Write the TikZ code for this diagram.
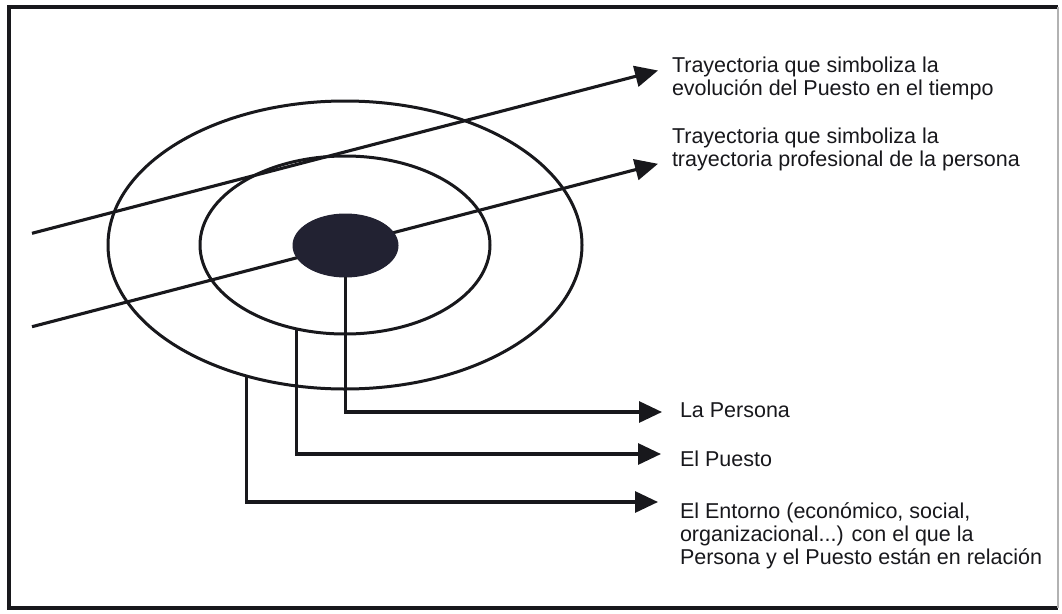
\documentclass[tikz,border=0pt]{standalone}
\usepackage{fontspec}
\setmainfont{Liberation Sans}
\usetikzlibrary{arrows.meta,shapes.geometric}
\definecolor{ink}{RGB}{24,24,28}
\definecolor{dotfill}{RGB}{34,34,50}
\begin{document}
\begin{tikzpicture}[x=1pt,y=-1pt,
  inkline/.style={draw=ink, line width=3.1pt},
  ring/.style={ellipse, draw=ink, line width=3pt, inner sep=0pt, outer sep=0pt},
  pointer/.style={inkline, -{Triangle[length=23pt,width=21pt]}},
  lbl/.style={anchor=base west, inner sep=0pt, outer sep=0pt, text=ink, font=\fontsize{21.5}{23}\selectfont}]
\useasboundingbox (0,0) rectangle (1062,613);
\fill[white] (0,0) rectangle (1062,613);
% frame
\draw[ink, line width=3.2pt] (1058,7) -- (9,7) -- (9,608) -- (1058,608);
\draw[gray!60, line width=1.2pt] (1058,7) -- (1058,608);
% rings
\node[ring, minimum width=474pt, minimum height=288pt] (outer) at (345,245) {};
\node[ring, minimum width=290pt, minimum height=178pt] (inner) at (345,245) {};
% trajectories
\coordinate (a1s) at (32,233.3);
\coordinate (a1e) at (658,70.5);
\coordinate (a2s) at (32,326.7);
\coordinate (a2e) at (658,163.8);
\draw[pointer] (a1s) -- (a1e);
\draw[pointer] (a2s) -- (a2e);
% person
\node[ellipse, fill=dotfill, draw=dotfill, line width=1pt, minimum width=105pt, minimum height=63pt, inner sep=0pt, outer sep=0pt] (dot) at (345.5,245.5) {};
% labels
\node[lbl] (t1) at (672,72.7) {\begin{tabular}[t]{@{}l@{}}Trayectoria que simboliza la\\evolución del Puesto en el tiempo\end{tabular}};
\node[lbl] (t2) at (672,143.3) {\begin{tabular}[t]{@{}l@{}}Trayectoria que simboliza la\\trayectoria profesional de la persona\end{tabular}};
\node[lbl] (lp) at (680,417) {La Persona};
\node[lbl] (lu) at (680,466) {El Puesto};
\node[lbl] (le) at (680,518) {\begin{tabular}[t]{@{}l@{}}El Entorno (económico, social,\\organizacional...) con el que la\\Persona y el Puesto están en relación\end{tabular}};
% pointers to labels
\coordinate (tipP) at (662,412);
\coordinate (tipU) at (661,454);
\coordinate (tipE) at (658,502);
\draw[pointer] (dot.south) |- (tipP);
\draw[pointer] (inner.240.26) |- (tipU);
\draw[pointer] (outer.233.91) |- (tipE);
\end{tikzpicture}
\end{document}
